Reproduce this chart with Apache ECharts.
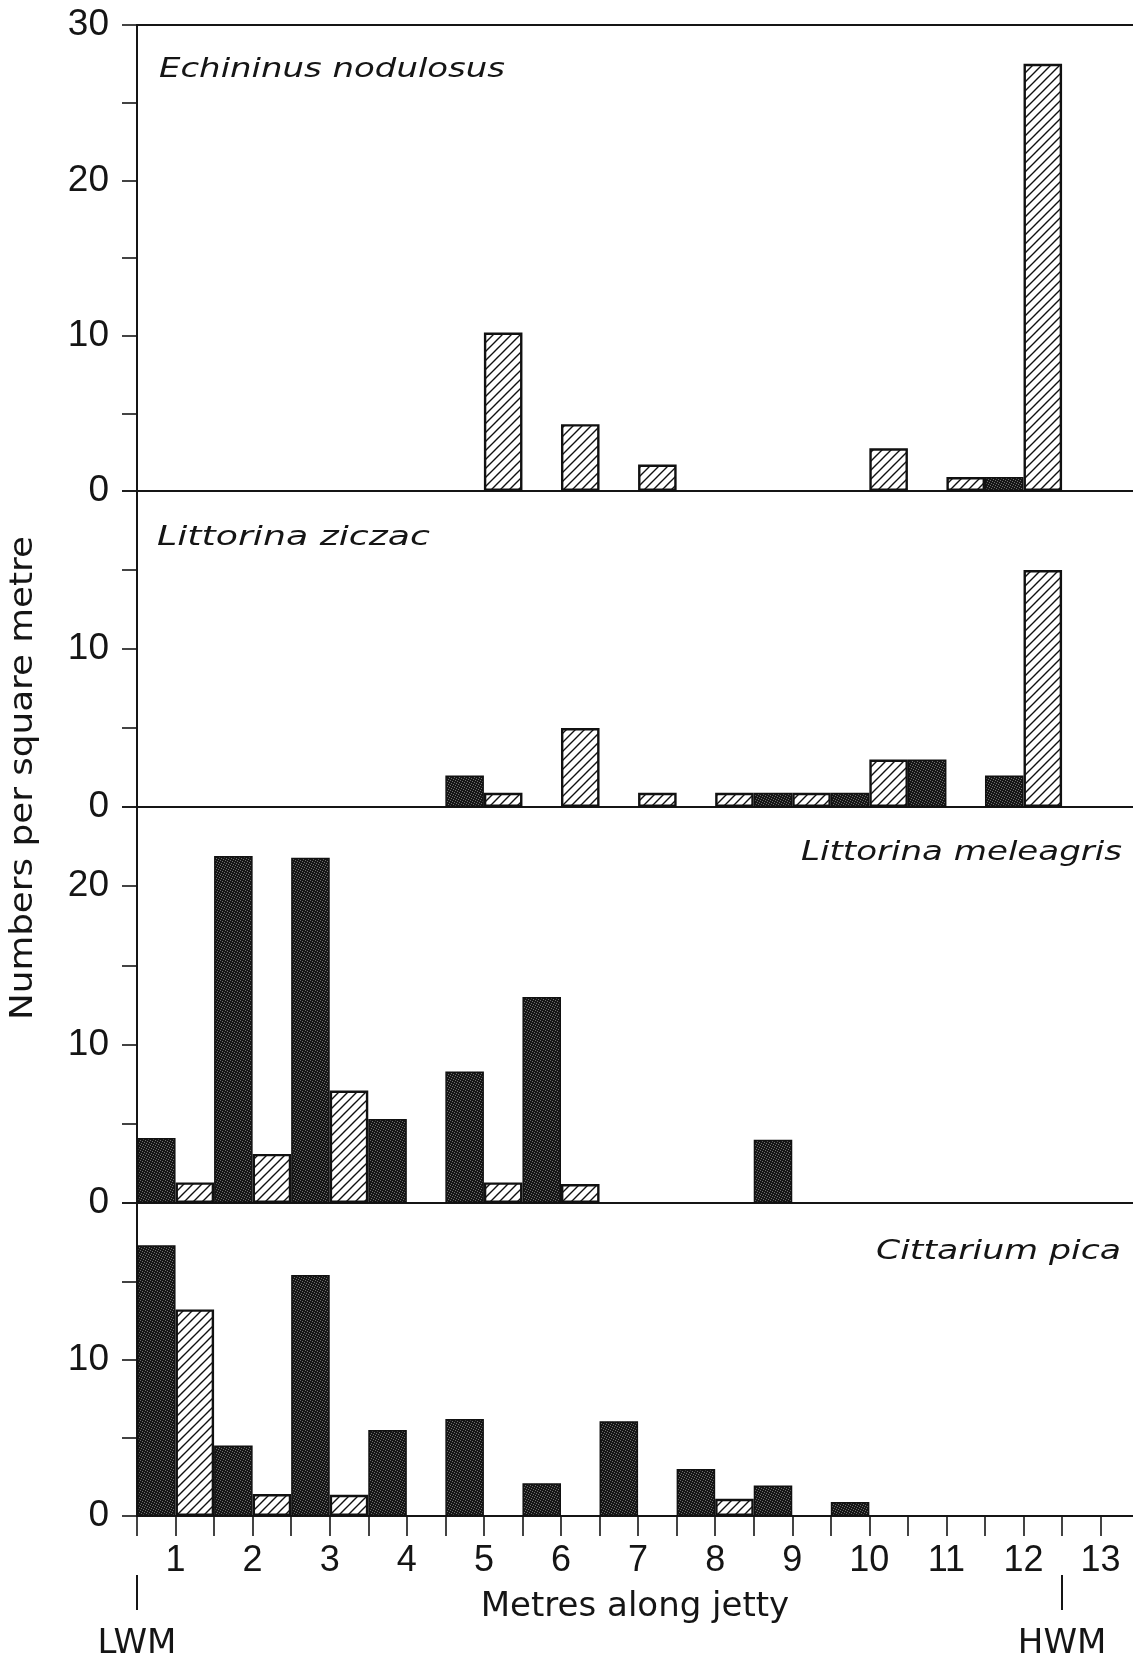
<!DOCTYPE html>
<html><head><meta charset="utf-8">
<script src="https://cdn.jsdelivr.net/npm/echarts@6/dist/echarts.min.js"></script>
<style>html,body{margin:0;padding:0;background:#fff}#c{width:1133px;height:1656px}</style>
</head><body><div id="c"></div>
<script>
// ---- data (numbers per square metre) ----
const metres = [1, 2, 3, 4, 5, 6, 7, 8, 9, 10, 11, 12, 13];
// dark bars occupy the half-metre before each mark, hatched bars the half-metre after it
const echDark  = [0, 0, 0, 0, 0, 0, 0, 0, 0, 0, 0, 0.9, 0];
const echHatch = [0, 0, 0, 0, 10.2, 4.3, 1.7, 0, 0, 2.75, 0.9, 27.5, 0];
const zicDark  = [0, 0, 0, 0, 2, 0, 0, 0, 0.9, 0.9, 3, 2, 0];
const zicHatch = [0, 0, 0, 0, 0.9, 5, 0.9, 0.9, 0.9, 3, 0, 15, 0];
const melDark  = [4.1, 21.9, 21.8, 5.3, 8.3, 13, 0, 0, 4, 0, 0, 0, 0];
const melHatch = [1.3, 3.1, 7.1, 0, 1.3, 1.2, 0, 0, 0, 0, 0, 0, 0];
const citDark  = [17.3, 4.5, 15.4, 5.5, 6.2, 2.1, 6.05, 3, 1.95, 0.9, 0, 0, 0];
const citHatch = [13.2, 1.4, 1.35, 0, 0, 0, 0, 1.1, 0, 0, 0, 0, 0];

const speciesNames = ['Echininus nodulosus', 'Littorina ziczac', 'Littorina meleagris', 'Cittarium pica'];
const xTickValues = [0.5, 1, 1.5, 2, 2.5, 3, 3.5, 4, 4.5, 5, 5.5, 6, 6.5, 7, 7.5, 8, 8.5, 9, 9.5, 10, 10.5, 11, 11.5, 12, 12.5, 13];
const xLabelValues = [1, 2, 3, 4, 5, 6, 7, 8, 9, 10, 11, 12, 13];
const markValues = [0.5, 12.5];
const markLabels = ['LWM', 'HWM'];
const yMax = [30, 20, 25, 20];
const yTickValues = [[0, 5, 10, 15, 20, 25, 30], [0, 5, 10, 15, 20], [0, 5, 10, 15, 20, 25], [0, 5, 10, 15, 20]];
const yLabelValues = [[0, 10, 20, 30], [0, 10], [0, 10, 20], [0, 10]];
const xTitle = 'Metres along jetty';
const yTitle = 'Numbers per square metre';

const panels = [[echDark, echHatch], [zicDark, zicHatch], [melDark, melHatch], [citDark, citHatch]];

// ---- patterns ----
function hatchPattern() {
  const c = document.createElement('canvas'); c.width = 9; c.height = 9;
  const g = c.getContext('2d');
  g.fillStyle = '#fff'; g.fillRect(0, 0, 9, 9);
  g.strokeStyle = '#111'; g.lineWidth = 1.4;
  g.beginPath();
  g.moveTo(-1, 10); g.lineTo(10, -1);
  g.moveTo(-1, 1); g.lineTo(1, -1);
  g.moveTo(8, 10); g.lineTo(10, 8);
  g.stroke();
  return c;
}
function darkPattern() {
  const c = document.createElement('canvas'); c.width = 5; c.height = 5;
  const g = c.getContext('2d');
  g.fillStyle = '#161616'; g.fillRect(0, 0, 5, 5);
  g.fillStyle = '#6e6e6e';
  [[0,0],[2,1],[4,2],[1,3],[3,4]].forEach(p => g.fillRect(p[0], p[1], 1, 1));
  return c;
}
const hatchFill = { image: hatchPattern(), repeat: 'repeat' };
const darkFill = { image: darkPattern(), repeat: 'repeat' };

// ---- layout ----
const gridBoxes = [
  { top: 25, height: 466 },
  { top: 491, height: 316 },
  { top: 807, height: 396 },
  { top: 1203, height: 313 }
];
const X_MIN = 0.5, X_MAX = 13.42;
const ink = '#151515';

const grids = gridBoxes.map(b => ({ left: 137, right: 0, top: b.top, height: b.height, outerBoundsMode: 'none', containLabel: false }));

const xAxes = gridBoxes.map((b, i) => ({
  type: 'value', gridIndex: i, position: 'bottom', min: X_MIN, max: X_MAX, interval: 0.5,
  axisLine: { show: true, onZero: false, lineStyle: { color: ink, width: 2 } },
  axisTick: { show: i === 3, inside: false, length: 20, customValues: xTickValues, lineStyle: { color: ink, width: 1.6 } },
  axisLabel: { show: i === 3, customValues: xLabelValues, margin: 27, fontSize: 36, fontFamily: 'Liberation Sans', color: ink },
  splitLine: { show: false },
  name: i === 3 ? xTitle : '',
  nameLocation: 'middle', nameGap: 74,
  nameTextStyle: { fontFamily: 'DejaVu Sans', fontSize: 34, color: ink }
}));
// top border of the first panel
xAxes.push({
  type: 'value', gridIndex: 0, position: 'top', min: X_MIN, max: X_MAX, interval: 0.5,
  axisLine: { show: true, onZero: false, lineStyle: { color: ink, width: 2 } },
  axisTick: { show: false }, axisLabel: { show: false }, splitLine: { show: false }
});
// LWM / HWM markers
xAxes.push({
  type: 'value', gridIndex: 3, position: 'bottom', offset: 59, min: X_MIN, max: X_MAX, interval: 0.5,
  axisLine: { show: true, onZero: false, lineStyle: { color: 'rgba(0,0,0,0)', width: 0 } },
  axisTick: { show: true, inside: false, length: 35, customValues: markValues, lineStyle: { color: ink, width: 2 } },
  axisLabel: { show: true, customValues: markValues, margin: 52, fontSize: 34, fontFamily: 'DejaVu Sans', color: ink,
    formatter: v => markLabels[markValues.indexOf(v)] || '' },
  splitLine: { show: false }
});

const yAxes = gridBoxes.map((b, i) => ({
  type: 'value', gridIndex: i, min: 0, max: yMax[i], interval: 5,
  axisLine: { show: true, onZero: false, lineStyle: { color: ink, width: 2 } },
  axisTick: { show: true, length: 15, customValues: yTickValues[i], lineStyle: { color: ink, width: 1.6 } },
  axisLabel: { customValues: yLabelValues[i], margin: 28, fontSize: 37, fontFamily: 'Liberation Sans', color: ink },
  splitLine: { show: false }
}));

const series = [];
panels.forEach((pair, i) => {
  ['dark', 'hatch'].forEach((kind, k) => {
    series.push({
      type: 'bar', name: speciesNames[i] + ' ' + kind, xAxisIndex: i, yAxisIndex: i,
      data: metres.map((m, j) => [m, pair[k][j] ? pair[k][j] : '-']),
      barWidth: '50%', barGap: '0%',
      itemStyle: { color: k === 0 ? darkFill : hatchFill, borderColor: '#111', borderWidth: k === 0 ? 1.5 : 2.4 },
      silent: true, animation: false
    });
  });
});

// ---- text annotations (stretched to match the letter-spaced original) ----
const mctx = document.createElement('canvas').getContext('2d');
function fit(text, font, target) { mctx.font = font; return target / mctx.measureText(text).width; }
const spFont = 'italic 27px "DejaVu Sans"';
const spPos = [
  { x: 159, y: 70, align: 'left', w: 346 },
  { x: 157, y: 538, align: 'left', w: 273 },
  { x: 1122, y: 853, align: 'right', w: 321 },
  { x: 1121, y: 1252, align: 'right', w: 245 }
];
const graphics = speciesNames.map((t, i) => ({
  type: 'text', x: spPos[i].x, y: spPos[i].y, scaleX: fit(t, spFont, spPos[i].w), silent: true, z: 100,
  style: { text: t, font: spFont, fill: ink, align: spPos[i].align, verticalAlign: 'middle',
    textAlign: spPos[i].align, textVerticalAlign: 'middle' }
}));
const ytFont = '32px "DejaVu Sans"';
graphics.push({
  type: 'text', x: 24, y: 778, rotation: Math.PI / 2, scaleX: fit(yTitle, ytFont, 484), silent: true, z: 100,
  style: { text: yTitle, font: ytFont, fill: ink, align: 'center', verticalAlign: 'middle',
    textAlign: 'center', textVerticalAlign: 'middle' }
});

const chart = echarts.init(document.getElementById('c'), null, { renderer: 'canvas', width: 1133, height: 1656 });
chart.setOption({
  animation: false,
  backgroundColor: '#fff',
  grid: grids,
  xAxis: xAxes,
  yAxis: yAxes,
  series: series,
  graphic: graphics
});
</script>
</body></html>
